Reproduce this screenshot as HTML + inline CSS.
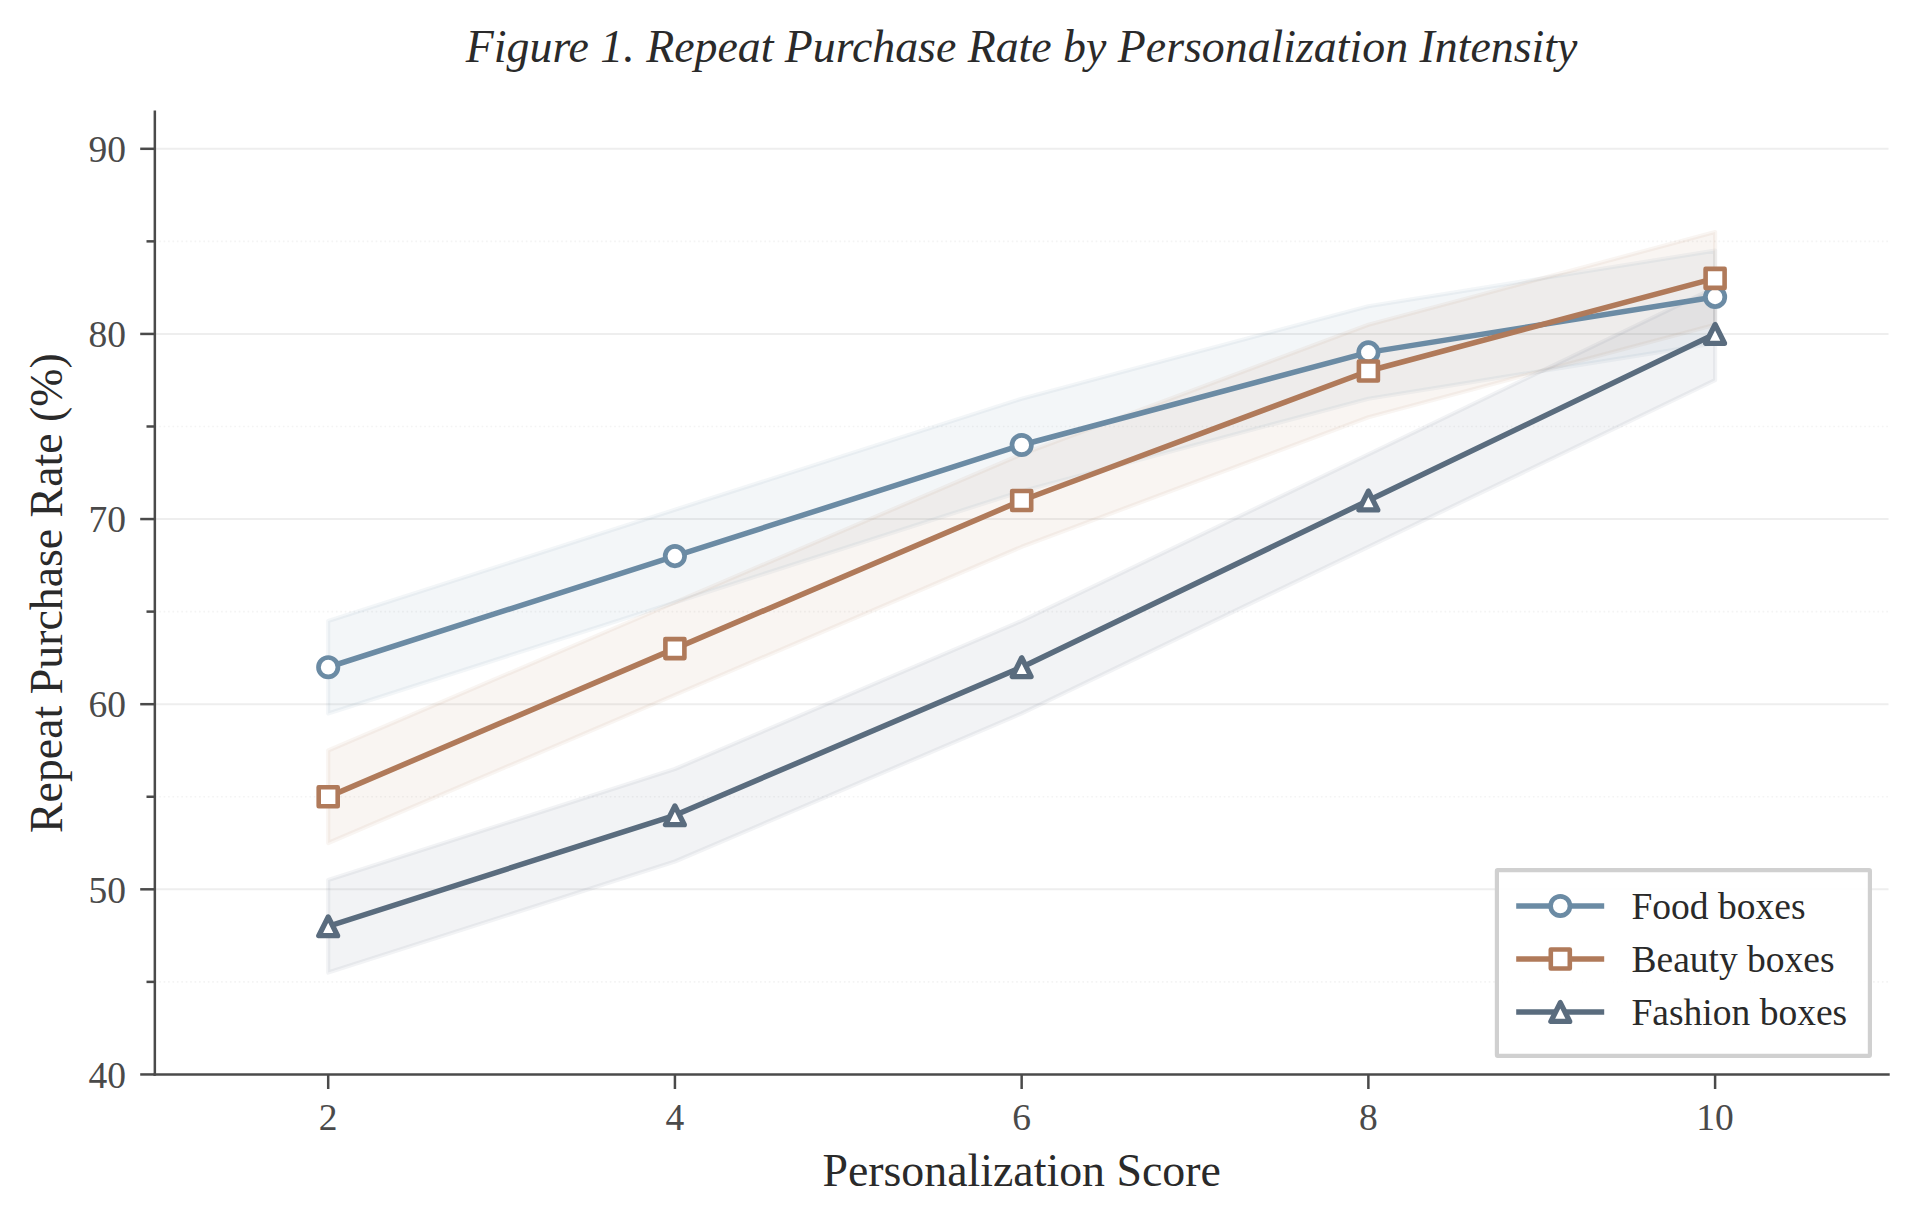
<!DOCTYPE html>
<html lang="en"><head><meta charset="utf-8"><title>Figure 1. Repeat Purchase Rate by Personalization Intensity</title>
<style>html,body{margin:0;padding:0;background:#fff}body{width:1919px;height:1226px;overflow:hidden}svg{display:block}text{font-family:"Liberation Serif",serif}</style></head><body>
<svg width="1919" height="1226" viewBox="0 0 1919 1226">
<rect width="1919" height="1226" fill="#ffffff"/>
<g stroke="#eeeeee" stroke-width="2.08" fill="none">
<line x1="154.8" y1="889.32" x2="1888.5" y2="889.32"/>
<line x1="154.8" y1="704.19" x2="1888.5" y2="704.19"/>
<line x1="154.8" y1="519.06" x2="1888.5" y2="519.06"/>
<line x1="154.8" y1="333.93" x2="1888.5" y2="333.93"/>
<line x1="154.8" y1="148.80" x2="1888.5" y2="148.80"/>
</g>
<g stroke="#f4f4f4" stroke-width="1.667" stroke-dasharray="1.667 2.75" fill="none">
<line x1="154.8" y1="981.88" x2="1888.5" y2="981.88"/>
<line x1="154.8" y1="796.75" x2="1888.5" y2="796.75"/>
<line x1="154.8" y1="611.62" x2="1888.5" y2="611.62"/>
<line x1="154.8" y1="426.49" x2="1888.5" y2="426.49"/>
<line x1="154.8" y1="241.36" x2="1888.5" y2="241.36"/>
</g>
<polygon points="328.2,620.9 674.9,509.8 1021.7,398.7 1368.4,306.2 1715.1,250.6 1715.1,343.2 1368.4,398.7 1021.7,491.3 674.9,602.4 328.2,713.4" fill="#6b8ba4" fill-opacity="0.080" stroke="#6b8ba4" stroke-opacity="0.080" stroke-width="4.17" stroke-linejoin="round"/>
<polygon points="328.2,750.5 674.9,602.4 1021.7,454.3 1368.4,324.7 1715.1,232.1 1715.1,324.7 1368.4,417.2 1021.7,546.8 674.9,694.9 328.2,843.0" fill="#b07a5a" fill-opacity="0.080" stroke="#b07a5a" stroke-opacity="0.080" stroke-width="4.17" stroke-linejoin="round"/>
<polygon points="328.2,880.1 674.9,769.0 1021.7,620.9 1368.4,454.3 1715.1,287.6 1715.1,380.2 1368.4,546.8 1021.7,713.4 674.9,861.5 328.2,972.6" fill="#5a6c7e" fill-opacity="0.080" stroke="#5a6c7e" stroke-opacity="0.080" stroke-width="4.17" stroke-linejoin="round"/>
<polyline points="328.2,667.2 674.9,556.1 1021.7,445.0 1368.4,352.4 1715.1,296.9" fill="none" stroke="#6b8ba4" stroke-width="5.50" stroke-linejoin="round" stroke-linecap="square"/>
<circle cx="328.2" cy="667.2" r="9.70" fill="#fff" stroke="#6b8ba4" stroke-width="4.70"/>
<circle cx="674.9" cy="556.1" r="9.70" fill="#fff" stroke="#6b8ba4" stroke-width="4.70"/>
<circle cx="1021.7" cy="445.0" r="9.70" fill="#fff" stroke="#6b8ba4" stroke-width="4.70"/>
<circle cx="1368.4" cy="352.4" r="9.70" fill="#fff" stroke="#6b8ba4" stroke-width="4.70"/>
<circle cx="1715.1" cy="296.9" r="9.70" fill="#fff" stroke="#6b8ba4" stroke-width="4.70"/>
<polyline points="328.2,796.8 674.9,648.6 1021.7,500.5 1368.4,371.0 1715.1,278.4" fill="none" stroke="#b07a5a" stroke-width="5.50" stroke-linejoin="round" stroke-linecap="square"/>
<rect x="318.7" y="787.3" width="19.00" height="19.00" fill="#fff" stroke="#b07a5a" stroke-width="4.60" stroke-linejoin="round"/>
<rect x="665.4" y="639.1" width="19.00" height="19.00" fill="#fff" stroke="#b07a5a" stroke-width="4.60" stroke-linejoin="round"/>
<rect x="1012.2" y="491.0" width="19.00" height="19.00" fill="#fff" stroke="#b07a5a" stroke-width="4.60" stroke-linejoin="round"/>
<rect x="1358.9" y="361.5" width="19.00" height="19.00" fill="#fff" stroke="#b07a5a" stroke-width="4.60" stroke-linejoin="round"/>
<rect x="1705.6" y="268.9" width="19.00" height="19.00" fill="#fff" stroke="#b07a5a" stroke-width="4.60" stroke-linejoin="round"/>
<polyline points="328.2,926.3 674.9,815.3 1021.7,667.2 1368.4,500.5 1715.1,333.9" fill="none" stroke="#5a6c7e" stroke-width="5.50" stroke-linejoin="round" stroke-linecap="square"/>
<polygon points="328.2,916.9 318.8,935.7 337.6,935.7" fill="#fff" stroke="#5a6c7e" stroke-width="5.30" stroke-linejoin="round"/>
<polygon points="674.9,805.9 665.5,824.7 684.3,824.7" fill="#fff" stroke="#5a6c7e" stroke-width="5.30" stroke-linejoin="round"/>
<polygon points="1021.7,657.8 1012.3,676.6 1031.1,676.6" fill="#fff" stroke="#5a6c7e" stroke-width="5.30" stroke-linejoin="round"/>
<polygon points="1368.4,491.1 1359.0,509.9 1377.8,509.9" fill="#fff" stroke="#5a6c7e" stroke-width="5.30" stroke-linejoin="round"/>
<polygon points="1715.1,324.5 1705.7,343.3 1724.5,343.3" fill="#fff" stroke="#5a6c7e" stroke-width="5.30" stroke-linejoin="round"/>
<g stroke="#4a4a4a" stroke-width="2.5" fill="none" stroke-linecap="square">
<line x1="154.84" y1="111.77" x2="154.84" y2="1074.45"/>
<line x1="154.84" y1="1074.45" x2="1888.46" y2="1074.45"/>
</g>
<g stroke="#4a4a4a" stroke-width="2.5" fill="none">
<line x1="140.2" y1="1074.45" x2="154.8" y2="1074.45"/>
<line x1="140.2" y1="889.32" x2="154.8" y2="889.32"/>
<line x1="140.2" y1="704.19" x2="154.8" y2="704.19"/>
<line x1="140.2" y1="519.06" x2="154.8" y2="519.06"/>
<line x1="140.2" y1="333.93" x2="154.8" y2="333.93"/>
<line x1="140.2" y1="148.80" x2="154.8" y2="148.80"/>
<line x1="146.5" y1="981.88" x2="154.8" y2="981.88"/>
<line x1="146.5" y1="796.75" x2="154.8" y2="796.75"/>
<line x1="146.5" y1="611.62" x2="154.8" y2="611.62"/>
<line x1="146.5" y1="426.49" x2="154.8" y2="426.49"/>
<line x1="146.5" y1="241.36" x2="154.8" y2="241.36"/>
<line x1="328.20" y1="1074.5" x2="328.20" y2="1089.0"/>
<line x1="674.93" y1="1074.5" x2="674.93" y2="1089.0"/>
<line x1="1021.65" y1="1074.5" x2="1021.65" y2="1089.0"/>
<line x1="1368.37" y1="1074.5" x2="1368.37" y2="1089.0"/>
<line x1="1715.10" y1="1074.5" x2="1715.10" y2="1089.0"/>
</g>
<g fill="#4a4a4a" font-size="37.5">
<text x="126.0" y="1087.7" text-anchor="end">40</text>
<text x="126.0" y="902.5" text-anchor="end">50</text>
<text x="126.0" y="717.4" text-anchor="end">60</text>
<text x="126.0" y="532.3" text-anchor="end">70</text>
<text x="126.0" y="347.1" text-anchor="end">80</text>
<text x="126.0" y="162.0" text-anchor="end">90</text>
<text x="328.2" y="1130.0" text-anchor="middle">2</text>
<text x="674.9" y="1130.0" text-anchor="middle">4</text>
<text x="1021.7" y="1130.0" text-anchor="middle">6</text>
<text x="1368.4" y="1130.0" text-anchor="middle">8</text>
<text x="1715.1" y="1130.0" text-anchor="middle">10</text>
</g>
<text x="1021.6" y="62.0" text-anchor="middle" font-size="45.83" font-style="italic" fill="#2a2a2a">Figure 1. Repeat Purchase Rate by Personalization Intensity</text>
<text x="1021.6" y="1186.3" text-anchor="middle" font-size="45.83" fill="#2a2a2a">Personalization Score</text>
<text transform="translate(62.2 593.1) rotate(-90)" text-anchor="middle" font-size="45.83" fill="#2a2a2a">Repeat Purchase Rate (%)</text>
<rect x="1496.9" y="870.2" width="373.0" height="185.6" rx="0.8" fill="#fff" fill-opacity="0.9" stroke="#d0d0d0" stroke-width="4.17"/>
<line x1="1516.2" y1="906.0" x2="1604.2" y2="906.0" stroke="#6b8ba4" stroke-width="5.50"/>
<circle cx="1560.3" cy="906.0" r="9.70" fill="#fff" stroke="#6b8ba4" stroke-width="4.70"/>
<text x="1631.5" y="919.0" font-size="37.5" fill="#2a2a2a">Food boxes</text>
<line x1="1516.2" y1="959.0" x2="1604.2" y2="959.0" stroke="#b07a5a" stroke-width="5.50"/>
<rect x="1550.8" y="949.5" width="19.00" height="19.00" fill="#fff" stroke="#b07a5a" stroke-width="4.60" stroke-linejoin="round"/>
<text x="1631.5" y="972.0" font-size="37.5" fill="#2a2a2a">Beauty boxes</text>
<line x1="1516.2" y1="1012.0" x2="1604.2" y2="1012.0" stroke="#5a6c7e" stroke-width="5.50"/>
<polygon points="1560.3,1002.6 1550.9,1021.4 1569.7,1021.4" fill="#fff" stroke="#5a6c7e" stroke-width="5.30" stroke-linejoin="round"/>
<text x="1631.5" y="1025.0" font-size="37.5" fill="#2a2a2a">Fashion boxes</text>
</svg></body></html>
